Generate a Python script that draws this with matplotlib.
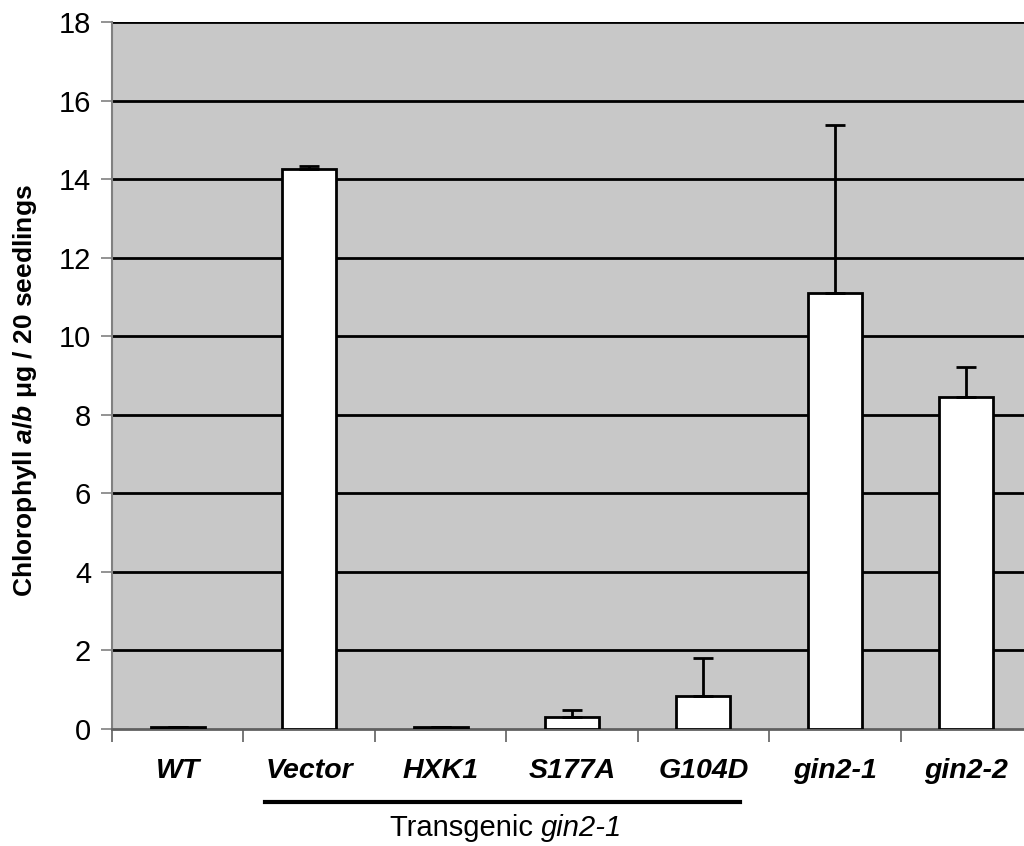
import matplotlib
matplotlib.use("Agg")
import matplotlib.pyplot as plt
import numpy as np

categories = ["WT", "Vector", "HXK1", "S177A", "G104D", "gin2-1", "gin2-2"]
values = [0.05, 14.26, 0.05, 0.30, 0.84, 11.10, 8.45]
errors = [0.0, 0.07, 0.0, 0.18, 0.97, 4.28, 0.77]
yticks = [0, 2, 4, 6, 8, 10, 12, 14, 16, 18]

plt.rcParams['font.family'] = ['Liberation Sans', 'DejaVu Sans']
plt.rcParams['mathtext.fontset'] = 'custom'
plt.rcParams['mathtext.rm'] = 'Liberation Sans:bold'
plt.rcParams['mathtext.it'] = 'Liberation Sans:bold:italic'
plt.rcParams['mathtext.bf'] = 'Liberation Sans:bold'

fig = plt.figure(figsize=(10.24, 8.46), dpi=100)
ax = fig.add_axes([112/1024, 117/846, 920/1024, 707/846])
ax.set_facecolor('#c8c8c8')

x = np.arange(len(categories))
for yt in yticks:
    if yt > 0:
        ax.axhline(yt, color='black', lw=2, zorder=1)

ax.bar(x, values, width=0.41, color='white', edgecolor='black', linewidth=2, zorder=3)
ax.errorbar(x, values, yerr=[np.zeros(len(errors)), errors], fmt='none',
            ecolor='black', elinewidth=2, capsize=7, capthick=2, zorder=4)

ax.set_xlim(-0.5, 6.5)
ax.set_ylim(0, 18)
ax.set_yticks(yticks)
ax.set_yticklabels([str(v) for v in yticks], fontsize=21)
ax.tick_params(axis='y', direction='out', length=8, color='#808080', width=1.2, pad=7)

ax.set_xticks(x)
ax.set_xticklabels(categories, fontsize=20.5, fontweight='bold', fontstyle='italic')
ax.tick_params(axis='x', which='major', length=0, pad=21)
ax.set_xticks(np.arange(-0.5, 7.0, 1.0), minor=True)
ax.tick_params(axis='x', which='minor', direction='out', length=9, color='#606060', width=1.2)

for s in ['top', 'right']:
    ax.spines[s].set_visible(False)
ax.spines['left'].set_color('#808080')
ax.spines['left'].set_linewidth(1.5)
ax.spines['bottom'].set_color('#606060')
ax.spines['bottom'].set_linewidth(2)

fig.text(25/1024, 1 - 391/846, r"Chlorophyll $\mathit{a/b}$ μg / 20 seedlings",
         rotation=90, ha='center', va='center', fontsize=19, fontweight='bold')

# grouping line and label
fig.add_artist(plt.Line2D([265/1024, 740/1024], [1 - 802/846, 1 - 802/846],
                          color='black', lw=3))
ty = 1 - 828/846
t1 = fig.text(0, ty, "Transgenic ", ha='left', va='center', fontsize=21)
t2 = fig.text(0, ty, "gin2-1", ha='left', va='center', fontsize=21, fontstyle='italic')
fig.canvas.draw()
r = fig.canvas.get_renderer()
w1 = t1.get_window_extent(r).width
w2 = t2.get_window_extent(r).width
cx = 506
start = cx - (w1 + w2) / 2
t1.set_x(start / 1024)
t2.set_x((start + w1) / 1024)

fig.savefig("out.png", dpi=100)
